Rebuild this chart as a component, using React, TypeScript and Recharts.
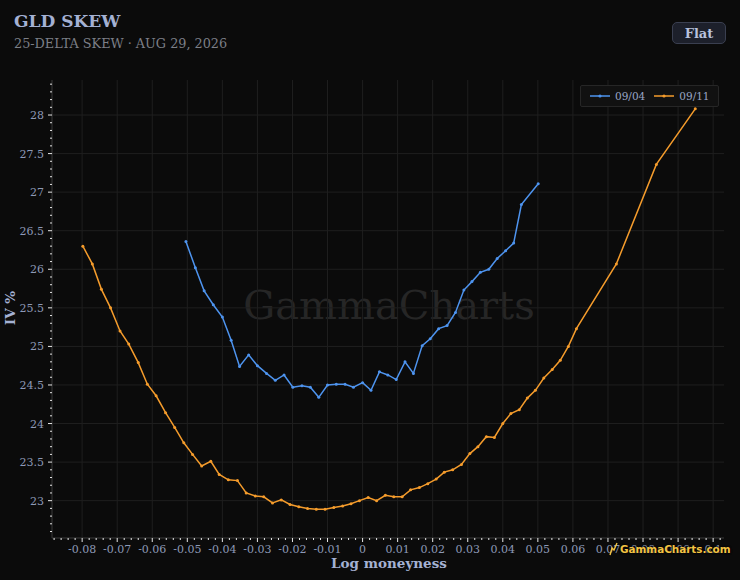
import React from "react";
import { LineChart, Line, XAxis, YAxis, CartesianGrid } from "recharts";

const BLUE = "#4e94ef";
const ORANGE = "#f59c2c";
const TICK_TEXT = "#8d99b6";
const LABEL_TEXT = "#a4b1d3";

const seriesNames = ["09/04", "09/11"];

// 09/04 expiry
const moneyness0904 = [
  -0.0504, -0.0477, -0.0452, -0.0426, -0.04, -0.0375, -0.0351, -0.0325, -0.03, -0.0274,
  -0.0249, -0.0224, -0.0199, -0.0173, -0.0149, -0.0125, -0.01, -0.0075, -0.005, -0.0026,
  0, 0.0024, 0.0048, 0.0072, 0.0096, 0.0121, 0.0145, 0.017, 0.0193, 0.0217,
  0.0241, 0.0265, 0.0289, 0.0312, 0.0336, 0.036, 0.0384, 0.0408, 0.0431, 0.0453, 0.0501,
];
const iv0904 = [
  26.36, 26.02, 25.72, 25.54, 25.38, 25.08, 24.74, 24.89, 24.75, 24.65,
  24.56, 24.63, 24.47, 24.49, 24.47, 24.34, 24.5, 24.51, 24.51, 24.47,
  24.53, 24.43, 24.67, 24.63, 24.57, 24.8, 24.65, 25.01, 25.1, 25.23,
  25.27, 25.44, 25.73, 25.84, 25.96, 26.0, 26.14, 26.24, 26.34, 26.84, 27.11,
];

// 09/11 expiry
const moneyness0911 = [
  -0.0798, -0.0771, -0.0745, -0.0719, -0.0692, -0.0667, -0.064, -0.0614, -0.0589, -0.0562,
  -0.0536, -0.051, -0.0485, -0.0459, -0.0433, -0.0409, -0.0383, -0.0357, -0.0332, -0.0306,
  -0.0282, -0.0257, -0.0232, -0.0207, -0.0182, -0.0157, -0.0132, -0.0107, -0.0082, -0.0057,
  -0.0033, -0.0009, 0.0016, 0.004, 0.0065, 0.0089, 0.0113, 0.0137, 0.0162, 0.0186,
  0.021, 0.0233, 0.0257, 0.0282, 0.0306, 0.0329, 0.0353, 0.0376, 0.04, 0.0423,
  0.0447, 0.047, 0.0493, 0.0517, 0.0541, 0.0564, 0.0587, 0.061, 0.0724, 0.0838, 0.0949,
];
const iv0911 = [
  26.3, 26.07, 25.74, 25.5, 25.2, 25.03, 24.79, 24.51, 24.36, 24.14,
  23.95, 23.75, 23.6, 23.45, 23.51, 23.34, 23.27, 23.26, 23.1, 23.06,
  23.05, 22.97, 23.01, 22.95, 22.92, 22.9, 22.89, 22.89, 22.91, 22.93,
  22.96, 23.0, 23.04, 23.0, 23.07, 23.05, 23.05, 23.14, 23.17, 23.22,
  23.28, 23.37, 23.4, 23.47, 23.61, 23.7, 23.83, 23.82, 24.0, 24.13,
  24.18, 24.33, 24.43, 24.59, 24.7, 24.82, 25.0, 25.23, 26.07, 27.36, 28.08,
];

const xMajorTicks = [
  -0.08, -0.07, -0.06, -0.05, -0.04, -0.03, -0.02, -0.01, 0,
  0.01, 0.02, 0.03, 0.04, 0.05, 0.06, 0.07, 0.08, 0.09, 0.1,
];
const yMajorTicks = [23, 23.5, 24, 24.5, 25, 25.5, 26, 26.5, 27, 27.5, 28];

const xDomain: [number, number] = [-0.0886, 0.1031];
const yDomain: [number, number] = [22.516, 28.454];

// minor ticks: 5 per x interval, 5 per y interval
const subTicks = (majors: number[], parts: number, domain: [number, number]) => {
  const step = (majors[1] - majors[0]) / parts;
  const out: number[] = [];
  const first = majors[0] - Math.floor((majors[0] - domain[0]) / step) * step;
  for (let v = first; v <= domain[1] + 1e-9; v += step) {
    out.push(Math.round(v * 1e6) / 1e6);
  }
  return out;
};
const xTicks = subTicks(xMajorTicks, 5, xDomain);
const yTicks = subTicks(yMajorTicks, 5, yDomain);

const isMajor = (v: number, majors: number[]) => majors.some((t) => Math.abs(t - v) < 1e-6);
const fmt = (v: number) => String(Number(v.toFixed(3)));

const toPoints = (m: number[], iv: number[]) => m.map((x, i) => ({ m: x, iv: iv[i] }));
const data0904 = toPoints(moneyness0904, iv0904);
const data0911 = toPoints(moneyness0911, iv0911);

const XTick = ({ x, y, payload }: any) => {
  const major = isMajor(payload.value, xMajorTicks);
  return (
    <g>
      <line x1={x} x2={x} y1={y} y2={y + (major ? 4 : 2)} stroke="#e8e8e8" strokeWidth={1} />
      {major && (
        <text x={x} y={y + 15} textAnchor="middle" fill={TICK_TEXT} fontSize={11} fontFamily="DejaVu Serif, serif">
          {fmt(payload.value)}
        </text>
      )}
    </g>
  );
};

const YTick = ({ x, y, payload }: any) => {
  const major = isMajor(payload.value, yMajorTicks);
  return (
    <g>
      <line x1={x - (major ? 4 : 2)} x2={x} y1={y} y2={y} stroke="#e8e8e8" strokeWidth={1} />
      {major && (
        <text x={x - 8} y={y + 4} textAnchor="end" fill={TICK_TEXT} fontSize={11} fontFamily="DejaVu Serif, serif">
          {fmt(payload.value)}
        </text>
      )}
    </g>
  );
};

const LegendBox = () => {
  const colors = [BLUE, ORANGE];
  return (
    <div
      style={{
        position: "absolute",
        left: 580,
        top: 85,
        width: 128,
        height: 20,
        background: "#111111",
        border: "1px solid #262626",
        borderRadius: 2,
        display: "flex",
        alignItems: "center",
        gap: 9,
        paddingLeft: 9,
        boxSizing: "content-box",
        fontSize: 10.5,
        color: "#99a5c6",
      }}
    >
      {seriesNames.map((name, i) => (
        <div key={name} style={{ display: "flex", alignItems: "center", gap: 5 }}>
          <svg width={20} height={6}>
            <line x1={0} x2={20} y1={3} y2={3} stroke={colors[i]} strokeWidth={1.5} />
            <circle cx={10} cy={3} r={1.6} fill={colors[i]} />
          </svg>
          <span>{name}</span>
        </div>
      ))}
    </div>
  );
};

export default function App() {
  return (
    <div
      style={{
        position: "absolute",
        left: 0,
        top: 0,
        width: 740,
        height: 580,
        background: "#0b0b0b",
        overflow: "hidden",
        fontFamily: '"DejaVu Serif", serif',
      }}
    >
      <div style={{ position: "absolute", left: 14, top: 11, fontSize: 17, fontWeight: 700, color: LABEL_TEXT }}>
        GLD SKEW
      </div>
      <div style={{ position: "absolute", left: 14, top: 36, fontSize: 12.8, color: "#7c7f87" }}>
        25-DELTA SKEW · AUG 29, 2026
      </div>

      <div
        style={{
          position: "absolute",
          left: 0,
          top: 282,
          width: 778,
          textAlign: "center",
          fontSize: 40,
          color: "#262626",
        }}
      >
        GammaCharts
      </div>

      <div style={{ position: "absolute", left: 0, top: 0 }}>
        <LineChart width={740} height={580} margin={{ top: 80, right: 16, left: 0, bottom: 0 }}>
          <CartesianGrid stroke="#1f1f1f" verticalValues={xMajorTicks} horizontalValues={yMajorTicks} />
          <XAxis
            type="number"
            dataKey="m"
            domain={xDomain}
            ticks={xTicks}
            interval={0}
            tick={<XTick />}
            tickLine={false}
            tickSize={0}
            tickMargin={0}
            axisLine={{ stroke: "#3a3a3a" }}
            height={42}
            allowDataOverflow
          />
          <YAxis
            type="number"
            domain={yDomain}
            ticks={yTicks}
            interval={0}
            tick={<YTick />}
            tickLine={false}
            tickSize={0}
            tickMargin={0}
            axisLine={{ stroke: "#3a3a3a" }}
            width={52}
            allowDataOverflow
          />
          <Line
            data={data0904}
            dataKey="iv"
            name={seriesNames[0]}
            type="linear"
            stroke={BLUE}
            strokeWidth={1.5}
            dot={{ r: 1.5, fill: BLUE, stroke: BLUE, strokeWidth: 0 }}
            activeDot={false}
            isAnimationActive={false}
          />
          <Line
            data={data0911}
            dataKey="iv"
            name={seriesNames[1]}
            type="linear"
            stroke={ORANGE}
            strokeWidth={1.5}
            dot={{ r: 1.5, fill: ORANGE, stroke: ORANGE, strokeWidth: 0 }}
            activeDot={false}
            isAnimationActive={false}
          />
        </LineChart>
      </div>

      <LegendBox />

      <div
        style={{
          position: "absolute",
          left: 672,
          top: 22,
          width: 52,
          height: 20,
          background: "#1d202b",
          border: "1px solid #3a3f50",
          borderRadius: 5,
          color: "#b8c2dc",
          fontSize: 13,
          fontWeight: 700,
          display: "flex",
          alignItems: "center",
          justifyContent: "center",
        }}
      >
        Flat
      </div>

      <div
        style={{
          position: "absolute",
          left: 0,
          top: 555,
          width: 778,
          textAlign: "center",
          fontSize: 13.5,
          fontWeight: 700,
          color: LABEL_TEXT,
        }}
      >
        Log moneyness
      </div>
      <div
        style={{
          position: "absolute",
          left: 10,
          top: 308,
          transform: "translate(-50%, -50%) rotate(-90deg)",
          fontSize: 13.5,
          fontWeight: 700,
          color: LABEL_TEXT,
          whiteSpace: "nowrap",
        }}
      >
        IV %
      </div>

      <div
        style={{
          position: "absolute",
          left: 609,
          top: 542,
          display: "flex",
          alignItems: "center",
          gap: 2,
          fontFamily: '"DejaVu Sans", sans-serif',
          fontSize: 10.4,
          fontWeight: 700,
          color: "#f3c443",
          textShadow: "0 0 2px #000, 0 0 2px #000",
        }}
      >
        <svg width={9} height={14}>
          <polyline points="1,13 3,6 5,8 8,1" fill="none" stroke="#f3c443" strokeWidth={1.4} />
        </svg>
        <span>GammaCharts.com</span>
      </div>
    </div>
  );
}
